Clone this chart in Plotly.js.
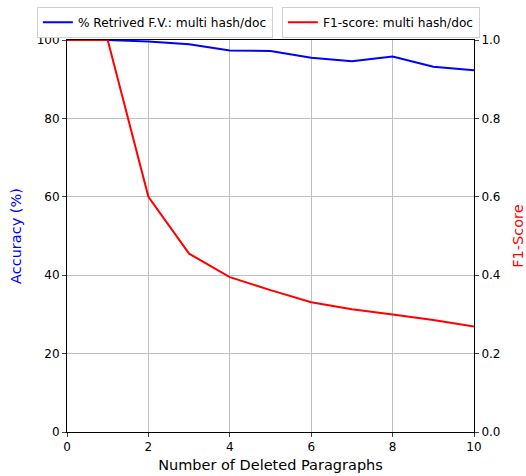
<!DOCTYPE html>
<html><head><meta charset="utf-8">
<script src="https://cdn.plot.ly/plotly-3.0.1.min.js"></script>
<style>body{margin:0;padding:0;background:#fff}#chart{width:526px;height:476px}</style>
</head><body><div id="chart"></div>
<script>
const deleted = [0, 1, 2, 3, 4, 5, 6, 7, 8, 9, 10];
const retrieved = [100, 100, 99.6, 98.9, 97.3, 97.2, 95.5, 94.6, 95.8, 93.2, 92.3];
const f1score = [1.0, 1.0, 0.60, 0.455, 0.395, 0.362, 0.331, 0.313, 0.300, 0.286, 0.269];
const names = ['% Retrived F.V.: multi hash/doc', 'F1-score: multi hash/doc'];

const font = {family: 'DejaVu Sans', size: 12, color: '#000'};
const traces = [
  {x: deleted, y: retrieved, name: names[0], type: 'scatter', mode: 'lines',
   line: {color: '#0000ff', width: 2}, yaxis: 'y', legend: 'legend'},
  {x: deleted, y: f1score, name: names[1], type: 'scatter', mode: 'lines',
   line: {color: '#ff0000', width: 2}, yaxis: 'y2', legend: 'legend2'}
];
const legStyle = {orientation: 'h', bgcolor: '#fff', bordercolor: '#d0d0d0', borderwidth: 1,
  font: {family: 'DejaVu Sans', size: 12.2, color: '#000'}, yanchor: 'top', xanchor: 'left',
  xref: 'paper', yref: 'paper', itemwidth: 30, tracegroupgap: 0};
const layout = {
  width: 526, height: 476,
  margin: {l: 67, r: 52, t: 40, b: 44, autoexpand: false},
  paper_bgcolor: '#fff', plot_bgcolor: '#fff',
  font: font,
  showlegend: true,
  legend: Object.assign({}, legStyle, {x: -0.074, y: 1.085}),
  legend2: Object.assign({}, legStyle, {x: 0.528, y: 1.085}),
  xaxis: {range: [0, 10], tickvals: [0, 2, 4, 6, 8, 10], ticks: 'outside', ticklen: 4,
    showline: true, linecolor: '#000', linewidth: 1, mirror: true,
    showgrid: true, gridcolor: '#c0c0c0', gridwidth: 1, zeroline: false,
    title: {text: 'Number of Deleted Paragraphs', font: {family: 'DejaVu Sans', size: 14.5, color: '#000'}, standoff: 6},
    tickfont: font},
  yaxis: {range: [0, 100], tickvals: [0, 20, 40, 60, 80, 100], ticks: 'outside', ticklen: 4,
    showline: true, linecolor: '#000', linewidth: 1,
    showgrid: true, gridcolor: '#c0c0c0', gridwidth: 1, zeroline: false,
    title: {text: 'Accuracy (%)', font: {family: 'DejaVu Sans', size: 14.5, color: '#0000ff'}, standoff: 11},
    tickfont: font},
  yaxis2: {range: [0, 1], tickvals: [0, 0.2, 0.4, 0.6, 0.8, 1.0], tickformat: '.1f',
    overlaying: 'y', side: 'right', ticks: 'outside', ticklen: 4,
    showline: true, linecolor: '#000', linewidth: 1, showgrid: false, zeroline: false,
    title: {text: 'F1-Score', font: {family: 'DejaVu Sans', size: 14.5, color: '#ff0000'}, standoff: 15},
    tickfont: font}
};
Plotly.newPlot('chart', traces, layout, {displayModeBar: false, staticPlot: true});
</script></body></html>
